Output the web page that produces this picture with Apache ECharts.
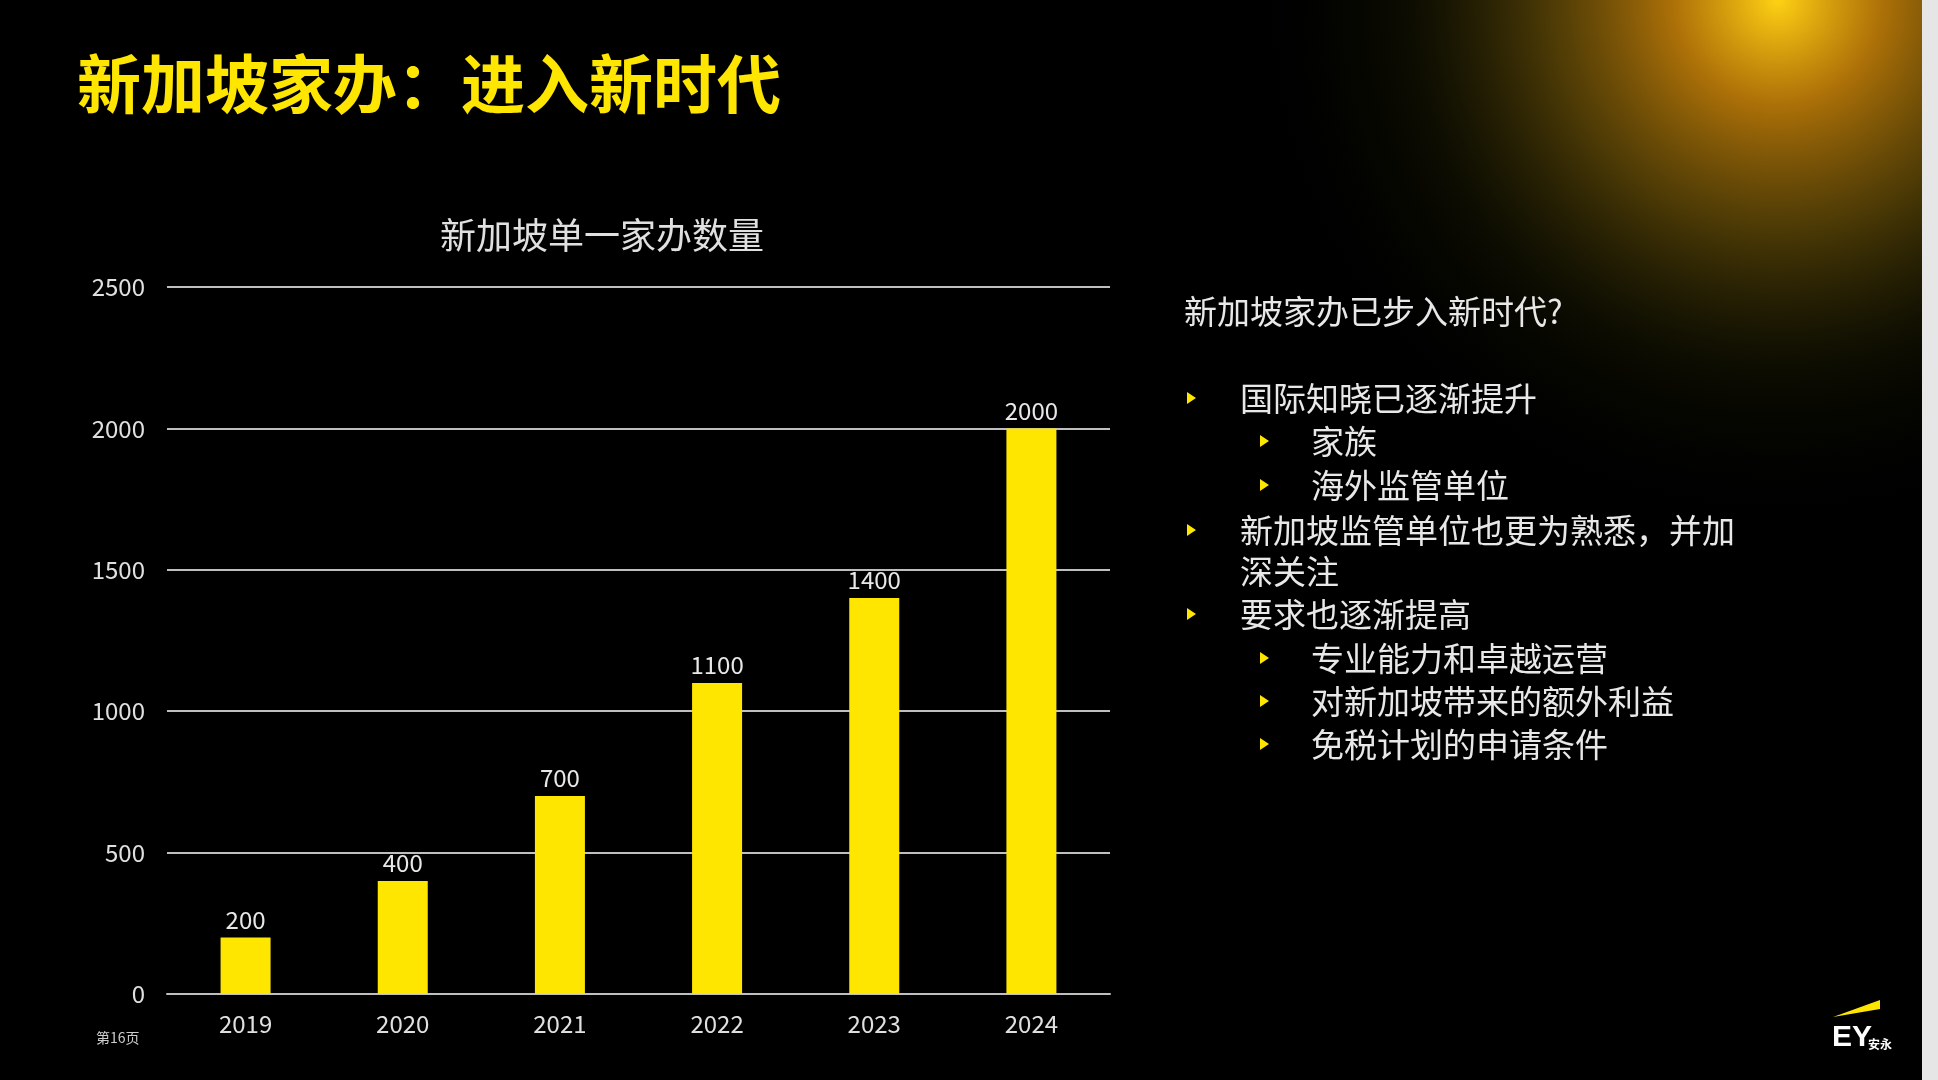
<!DOCTYPE html>
<html>
<head>
<meta charset="UTF-8">
<title></title>
<script src="https://cdn.jsdelivr.net/npm/echarts@6/dist/echarts.min.js"></script>
<style>html,body{margin:0;padding:0;background:#000;}</style>
</head>
<body>
<div id="main" style="width:1938px;height:1080px;"></div>
<script type="text/javascript">
// 数据
var years = ['2019', '2020', '2021', '2022', '2023', '2024'];
var counts = [200, 400, 700, 1100, 1400, 2000];
var bullets = [
    [0, '国际知晓已逐渐提升'],
    [1, '家族'],
    [1, '海外监管单位'],
    [0, '新加坡监管单位也更为熟悉，并加'],
    [-1, '深关注'],
    [0, '要求也逐渐提高'],
    [1, '专业能力和卓越运营'],
    [1, '对新加坡带来的额外利益'],
    [1, '免税计划的申请条件']
];
var lineY = [398, 441, 485, 530, 571, 614, 658, 701, 744];

var font = '"Noto Sans CJK SC", sans-serif';
var graphics = [
    // 右上角光晕
    { type: 'rect', shape: { x: 1120, y: 0, width: 802, height: 620 }, z: -10, silent: true,
      style: { fill: new echarts.graphic.RadialGradient(0.82, 0, 0.85, [
          { offset: 0, color: 'rgba(255,210,20,1)' },
          { offset: 0.2, color: 'rgba(215,140,10,0.8)' },
          { offset: 0.45, color: 'rgba(130,100,10,0.55)' },
          { offset: 0.7, color: 'rgba(50,50,5,0.25)' },
          { offset: 1, color: 'rgba(0,0,0,0)' }]) } },
    { type: 'rect', shape: { x: 1922, y: 0, width: 16, height: 1080 }, style: { fill: '#e6e6e6' } },
    { type: 'text', left: 77, top: 52, style: { text: '新加坡家办：进入新时代', fill: '#FFE600', font: 'bold 64px ' + font } },
    { type: 'text', x: 602, y: 235, style: { text: '新加坡单一家办数量', fill: '#e0e0e0', font: '36px ' + font, align: 'center', verticalAlign: 'middle' } },
    { type: 'text', x: 1184, y: 311, style: { text: '新加坡家办已步入新时代?', fill: '#e8e8e8', font: '33px ' + font, verticalAlign: 'middle' } },
    { type: 'text', x: 96, y: 1038, style: { text: '第16页', fill: '#cccccc', font: '14px ' + font, verticalAlign: 'middle' } },
    // EY 标志
    { type: 'polygon', shape: { points: [[1833, 1017], [1880, 1000], [1880, 1009]] }, style: { fill: '#FFE600' } },
    { type: 'text', x: 1832, y: 1038, style: { text: 'EY', fill: '#fff', font: 'bold 30px Liberation Sans', verticalAlign: 'middle' } },
    { type: 'text', x: 1868, y: 1044, style: { text: '安永', fill: '#fff', font: 'bold 12px ' + font, verticalAlign: 'middle' } }
];
bullets.forEach(function (b, i) {
    var lvl = b[0];
    var tx = lvl === 1 ? 1311 : 1240;
    if (lvl >= 0) {
        var bx = lvl === 1 ? 1260 : 1187;
        graphics.push({ type: 'polygon', shape: { points: [[bx, lineY[i] - 6], [bx + 9, lineY[i]], [bx, lineY[i] + 6]] }, style: { fill: '#FFE600' } });
    }
    graphics.push({ type: 'text', x: tx, y: lineY[i], style: { text: b[1], fill: '#e8e8e8', font: '33px ' + font, verticalAlign: 'middle' } });
});

var option = {
    backgroundColor: '#000',
    animation: false,
    grid: { left: 167, right: 828, top: 287, bottom: 86 },
    xAxis: {
        type: 'category', data: years,
        axisLine: { lineStyle: { color: '#bfbfbf', width: 2 } },
        axisTick: { show: false },
        axisLabel: { color: '#e0e0e0', fontSize: 24, margin: 18, fontFamily: font }
    },
    yAxis: {
        type: 'value', min: 0, max: 2500, interval: 500,
        axisLine: { show: false }, axisTick: { show: false },
        splitLine: { lineStyle: { color: '#bfbfbf', width: 2 } },
        axisLabel: { color: '#e0e0e0', fontSize: 24, margin: 22, fontFamily: font, formatter: function (v) { return String(v); } }
    },
    series: [{
        type: 'bar', data: counts, barWidth: 50,
        itemStyle: { color: '#FFE600' },
        label: { show: true, position: 'top', color: '#e8e8e8', fontSize: 24, distance: 6, fontFamily: font }
    }],
    graphic: graphics
};
var myChart = echarts.init(document.getElementById('main'));
myChart.setOption(option);
</script>
</body>
</html>
